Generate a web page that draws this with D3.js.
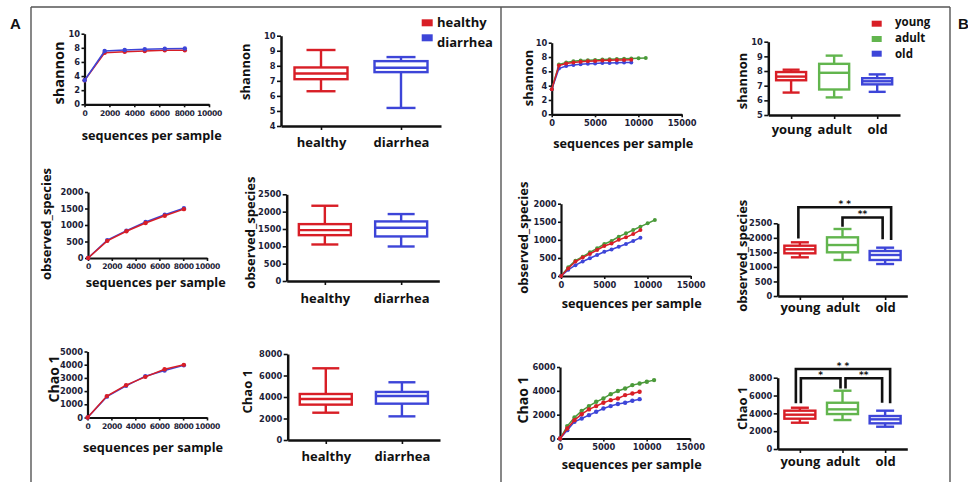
<!DOCTYPE html>
<html><head><meta charset="utf-8">
<script src="https://cdn.jsdelivr.net/npm/d3@7"></script>
<style>
body{margin:0;background:#fff}
svg{display:block}
</style></head><body>
<svg id="c" width="968" height="482"></svg>
<script>
// ---------------- DATA ----------------
const groupsA = ["healthy", "diarrhea"];
const groupsB = ["young", "adult", "old"];
const ticksSeqA = [0, 2000, 4000, 6000, 8000, 10000];
const ticksSeqB = [0, 5000, 10000, 15000];

// Panel A rarefaction curves
const seqA = [10, 1620, 3230, 4840, 6450, 8060];
const shannonCurveHealthy  = [3.4, 7.3, 7.45, 7.55, 7.65, 7.65];
const shannonCurveDiarrhea = [3.4, 7.55, 7.7, 7.8, 7.88, 7.9];
const observedCurveHealthy  = [0, 520, 810, 1060, 1280, 1480];
const observedCurveDiarrhea = [0, 540, 830, 1090, 1310, 1510];
const chaoCurveHealthy  = [0, 1620, 2450, 3080, 3650, 3990];
const chaoCurveDiarrhea = [0, 1580, 2400, 3130, 3560, 3950];

// Panel A box plots: [min, q1, median, q3, max]
const shannonBoxHealthy  = [6.31, 7.11, 7.49, 7.89, 9.05];
const shannonBoxDiarrhea = [5.2, 7.58, 7.87, 8.31, 8.58];
const observedBoxHealthy  = [1053, 1322, 1467, 1640, 2170];
const observedBoxDiarrhea = [995, 1285, 1534, 1718, 1930];
const chaoBoxHealthy  = [2540, 3290, 3810, 4280, 6670];
const chaoBoxDiarrhea = [2200, 3380, 4090, 4470, 5370];

// Panel B rarefaction curves
const seqB = [10, 835, 1670, 2505, 3340, 4175, 5010, 5845, 6680, 7515, 8350, 9185, 10020, 10855];
const shannonCurveYoung = [3.5, 6.8, 7.1, 7.25, 7.35, 7.4, 7.45, 7.5, 7.55, 7.58, 7.6, 7.62];
const shannonCurveAdult = [3.5, 6.95, 7.25, 7.4, 7.5, 7.55, 7.6, 7.65, 7.7, 7.72, 7.75, 7.8, 7.82, 7.85];
const shannonCurveOld   = [3.5, 6.4, 6.75, 6.9, 7.0, 7.05, 7.1, 7.15, 7.18, 7.2, 7.22, 7.25];
const observedCurveYoung = [0, 210, 400, 510, 610, 720, 830, 900, 1000, 1070, 1160, 1270];
const observedCurveAdult = [0, 240, 424, 535, 654, 765, 885, 968, 1088, 1180, 1272, 1364, 1456, 1548];
const observedCurveOld   = [0, 170, 300, 400, 490, 580, 670, 735, 810, 885, 970, 1060];
const chaoCurveYoung = [0, 840, 1540, 2040, 2440, 2720, 3000, 3220, 3360, 3640, 3780, 3920];
const chaoCurveAdult = [0, 1040, 1760, 2320, 2720, 3080, 3360, 3720, 3980, 4200, 4480, 4620, 4760, 4900];
const chaoCurveOld   = [0, 700, 1400, 1680, 1960, 2240, 2520, 2720, 2890, 3000, 3170, 3300];

// Panel B box plots: [min, q1, median, q3, max]
const shannonBoxYoung = [6.53, 7.37, 7.62, 7.93, 8.09];
const shannonBoxAdult = [6.2, 6.74, 7.88, 8.49, 9.05];
const shannonBoxOld   = [6.58, 7.09, 7.3, 7.51, 7.77];
const observedBoxYoung = [1330, 1468, 1606, 1730, 1846];
const observedBoxAdult = [1238, 1502, 1753, 2018, 2304];
const observedBoxOld   = [1100, 1238, 1410, 1547, 1662];
const chaoBoxYoung = [2950, 3400, 3850, 4300, 4630];
const chaoBoxAdult = [3250, 3920, 4450, 5190, 6540];
const chaoBoxOld   = [2500, 2880, 3330, 3700, 4300];

// significance comparisons
const sigObservedPairs = [["young", "old", "* *"], ["adult", "old", "**"]];
const sigChaoPairs = [["young", "old", "* *"], ["young", "adult", "*"], ["adult", "old", "**"]];

// ---------------- STYLE / LAYOUT ----------------
const RED = "#d81e26", BLUE = "#3d45d8", GREEN = "#62b54e", GREEN_D = "#4b9a3a";
const TFONT = "'Open Sans', sans-serif";
const svg = d3.select("#c");

function styleAxis(sel, w, fs) {
  sel.select(".domain").attr("stroke", "#111").attr("stroke-width", w);
  sel.selectAll(".tick line").attr("stroke", "#111").attr("stroke-width", 1.6);
  sel.selectAll(".tick text").attr("font-family", "'DejaVu Sans', sans-serif")
    .attr("font-weight", "bold").attr("font-size", (fs || 8.3) + "px").attr("fill", "#1d1d38");
}
function title(txt, x, y, rot, size) {
  const t = svg.append("text").text(txt)
    .attr("font-family", TFONT).attr("font-weight", 700).attr("font-size", (size || 13) + "px")
    .attr("fill", "#111").attr("text-anchor", "middle").attr("dominant-baseline", "central");
  if (rot) t.attr("transform", `translate(${x},${y}) rotate(-90)`);
  else t.attr("x", x).attr("y", y);
}

function lineChart(o) {
  const x = d3.scaleLinear().domain([0, o.xMax]).range(o.xr);
  const y = d3.scaleLinear().domain([0, o.yMax]).range(o.yr);
  const ga = svg.append("g").attr("transform", `translate(${o.xr[0]},0)`)
    .call(d3.axisLeft(y).tickValues(o.yTicks).tickFormat(d3.format("d")).tickSize(3).tickSizeOuter(0).tickPadding(1.5));
  styleAxis(ga, 2.2);
  const gb = svg.append("g").attr("transform", `translate(0,${o.yr[0]})`)
    .call(d3.axisBottom(x).tickValues(o.xTicks).tickFormat(d3.format("d")).tickSize(3).tickSizeOuter(0).tickPadding(3));
  styleAxis(gb, 2.2, o.xfs);
  if (o.xls) gb.selectAll(".tick text").attr("letter-spacing", o.xls);
  const line = d3.line().x((d, i) => x(o.seq[i])).y(d => y(d));
  o.series.forEach(([vals, col]) => {
    svg.append("path").datum(vals).attr("d", line).attr("fill", "none")
      .attr("stroke", col).attr("stroke-width", 1.5);
    svg.append("g").selectAll("circle").data(vals).join("circle")
      .attr("cx", (d, i) => x(o.seq[i])).attr("cy", d => y(d)).attr("r", o.r || 2.2).attr("fill", col);
  });
  title(o.yTitle, o.yt[0], o.yt[1], true, o.yts);
  title("sequences per sample", o.xt[0], o.xt[1], false, 12.7);
}

function boxChart(o) {
  const x = d3.scalePoint().domain(o.groups).range(o.xr).padding(o.pad);
  const y = d3.scaleLinear().domain(o.yDom).range(o.yr);
  const ga = svg.append("g").attr("transform", `translate(${o.xr[0]},0)`)
    .call(d3.axisLeft(y).tickValues(o.yTicks).tickFormat(d3.format("d")).tickSize(4).tickSizeOuter(0).tickPadding(1.5));
  styleAxis(ga, 2.5);
  const gb = svg.append("g").attr("transform", `translate(0,${o.yr[0]})`)
    .call(d3.axisBottom(x).tickSize(4).tickSizeOuter(0).tickPadding(o.lp));
  styleAxis(gb, 2.5);
  gb.selectAll(".tick text").attr("font-family", TFONT).attr("font-size", "13px")
    .attr("font-weight", 700).attr("fill", "#111");
  o.groups.forEach((g, i) => {
    const s = o.stats[i], c = o.colors[i], cx = x(g);
    const gg = svg.append("g").attr("stroke", c).attr("stroke-width", 2.4).attr("fill", "none");
    gg.append("line").attr("x1", cx).attr("x2", cx).attr("y1", y(s[4])).attr("y2", y(s[3]));
    gg.append("line").attr("x1", cx).attr("x2", cx).attr("y1", y(s[1])).attr("y2", y(s[0]));
    [s[0], s[4]].forEach(v => gg.append("line").attr("x1", cx - o.cw / 2).attr("x2", cx + o.cw / 2)
      .attr("y1", y(v)).attr("y2", y(v)));
    gg.append("rect").attr("x", cx - o.bw / 2).attr("width", o.bw)
      .attr("y", y(s[3])).attr("height", y(s[1]) - y(s[3])).attr("fill", "#fff");
    gg.append("line").attr("x1", cx - o.bw / 2).attr("x2", cx + o.bw / 2)
      .attr("y1", y(s[2])).attr("y2", y(s[2]));
  });
  title(o.yTitle, o.yt[0], o.yt[1], true);
  return { x, y };
}

function brackets(sc, pairs, lay) {
  pairs.forEach((p, i) => {
    const L = lay[i];
    const xa = sc.x(p[0]) + L[4], xb = sc.x(p[1]) + L[5];
    const yt = sc.y(L[0]);
    svg.append("path")
      .attr("d", `M${xa},${sc.y(L[1])}V${yt}H${xb}V${sc.y(L[2])}`)
      .attr("fill", "none").attr("stroke", "#111").attr("stroke-width", 2.6);
    svg.append("text").text(p[2]).attr("x", (xa + xb) / 2 + L[3]).attr("y", yt - 0.3)
      .attr("text-anchor", "middle").attr("font-family", "'DejaVu Sans', sans-serif")
      .attr("font-weight", "bold").attr("font-size", "9px").attr("fill", "#111");
  });
}

// ---------------- FRAME ----------------
const fr = svg.append("g").attr("stroke", "#555").attr("stroke-width", 1.4);
fr.append("line").attr("x1", 31).attr("x2", 950).attr("y1", 7).attr("y2", 7);
fr.append("line").attr("x1", 31).attr("x2", 31).attr("y1", 7).attr("y2", 482);
fr.append("line").attr("x1", 501).attr("x2", 501).attr("y1", 7).attr("y2", 482);
fr.append("line").attr("x1", 950).attr("x2", 950).attr("y1", 7).attr("y2", 482);
svg.append("text").text("A").attr("x", 10).attr("y", 29).attr("font-family", "'Liberation Sans', sans-serif")
  .attr("font-weight", "bold").attr("font-size", "15px").attr("fill", "#111");
svg.append("text").text("B").attr("x", 958).attr("y", 29).attr("font-family", "'Liberation Sans', sans-serif")
  .attr("font-weight", "bold").attr("font-size", "15px").attr("fill", "#111");

// ---------------- PANEL A ----------------
lineChart({ xr: [84.5, 209], yr: [104.3, 33.7], xMax: 10000, yMax: 10, yTicks: [0, 2, 4, 6, 8, 10],
  xTicks: ticksSeqA, seq: seqA, xfs: 7.6, xls: -0.3,
  series: [[shannonCurveHealthy, RED], [shannonCurveDiarrhea, BLUE]],
  yTitle: "shannon", yt: [58, 73], yts: 14.5, xt: [151.7, 135] });
lineChart({ xr: [88, 207], yr: [258, 192], xMax: 10000, yMax: 2000, yTicks: [0, 500, 1000, 1500, 2000],
  xTicks: ticksSeqA, seq: seqA, xfs: 7.6, xls: -0.3,
  series: [[observedCurveDiarrhea, BLUE], [observedCurveHealthy, RED]],
  yTitle: "observed_species", yt: [46, 224], xt: [155.7, 281.7] });
lineChart({ xr: [87.5, 207], yr: [417.5, 351.5], xMax: 10000, yMax: 5000, yTicks: [0, 1000, 2000, 3000, 4000, 5000],
  xTicks: ticksSeqA, seq: seqA, xfs: 7.6, xls: -0.3,
  series: [[chaoCurveDiarrhea, BLUE], [chaoCurveHealthy, RED]],
  yTitle: "Chao 1", yt: [53, 379], yts: 14, xt: [153, 446.7] });

boxChart({ groups: groupsA, xr: [281, 441], yr: [126, 35.7], yDom: [4, 10], yTicks: [4, 5, 6, 7, 8, 9, 10],
  pad: 0.5, bw: 53, cw: 29, lp: 7.3, stats: [shannonBoxHealthy, shannonBoxDiarrhea], colors: [RED, BLUE],
  yTitle: "shannon", yt: [245, 71.7] });
boxChart({ groups: groupsA, xr: [286.7, 439.3], yr: [281, 194.3], yDom: [0, 2500], yTicks: [0, 500, 1000, 1500, 2000, 2500],
  pad: 0.5, bw: 52, cw: 27, lp: 9, stats: [observedBoxHealthy, observedBoxDiarrhea], colors: [RED, BLUE],
  yTitle: "observed_species", yt: [250, 232.6] });
boxChart({ groups: groupsA, xr: [287.7, 440], yr: [440, 354], yDom: [0, 8000], yTicks: [0, 2000, 4000, 6000, 8000],
  pad: 0.5, bw: 52, cw: 27, lp: 7.3, stats: [chaoBoxHealthy, chaoBoxDiarrhea], colors: [RED, BLUE],
  yTitle: "Chao 1", yt: [246.7, 391.7] });

// legend A
[["healthy", RED, 19.3, 26.5], ["diarrhea", BLUE, 34.3, 46.5]].forEach(([t, c, ry, ty]) => {
  svg.append("rect").attr("x", 421.7).attr("y", ry).attr("width", 11).attr("height", 7).attr("fill", c);
  svg.append("text").text(t).attr("x", 437).attr("y", ty).attr("font-family", TFONT)
    .attr("font-weight", 700).attr("font-size", "13px").attr("fill", "#111");
});

// ---------------- PANEL B ----------------
lineChart({ xr: [551.7, 681.7], yr: [114.3, 42.7], xMax: 15000, yMax: 10, yTicks: [0, 2, 4, 6, 8, 10],
  xTicks: ticksSeqB, seq: seqB, r: 2,
  series: [[shannonCurveAdult, GREEN_D], [shannonCurveOld, BLUE], [shannonCurveYoung, RED]],
  yTitle: "shannon", yt: [528.3, 78], xt: [623.3, 142.7] });
lineChart({ xr: [561, 690.7], yr: [276, 203.7], xMax: 15000, yMax: 2000, yTicks: [0, 500, 1000, 1500, 2000],
  xTicks: ticksSeqB, seq: seqB, r: 2,
  series: [[observedCurveAdult, GREEN_D], [observedCurveOld, BLUE], [observedCurveYoung, RED]],
  yTitle: "observed_species", yt: [522.7, 237.7], xt: [631.7, 303.3] });
lineChart({ xr: [560, 690], yr: [438.5, 367], xMax: 15000, yMax: 6000, yTicks: [0, 2000, 4000, 6000],
  xTicks: ticksSeqB, seq: seqB, r: 2.2,
  series: [[chaoCurveAdult, GREEN_D], [chaoCurveOld, BLUE], [chaoCurveYoung, RED]],
  yTitle: "Chao 1", yt: [522.7, 400], yts: 14, xt: [631.7, 464] });

boxChart({ groups: groupsB, xr: [768.3, 900], yr: [115, 41.7], yDom: [5, 10], yTicks: [5, 6, 7, 8, 9, 10],
  pad: 0.53, bw: 30, cw: 17, lp: 5.7, stats: [shannonBoxYoung, shannonBoxAdult, shannonBoxOld],
  colors: [RED, GREEN, BLUE], yTitle: "shannon", yt: [741.7, 81] });
const bObs = boxChart({ groups: groupsB, xr: [777.7, 907.3], yr: [296, 223.3], yDom: [0, 2500], yTicks: [0, 500, 1000, 1500, 2000, 2500],
  pad: 0.52, bw: 31, cw: 18, lp: 3, stats: [observedBoxYoung, observedBoxAdult, observedBoxOld],
  colors: [RED, GREEN, BLUE], yTitle: "observed_species", yt: [741.7, 255.8] });
const bChao = boxChart({ groups: groupsB, xr: [777.7, 907.3], yr: [449, 377.7], yDom: [0, 8000], yTicks: [0, 2000, 4000, 6000, 8000],
  pad: 0.52, bw: 31, cw: 18, lp: 3.3, stats: [chaoBoxYoung, chaoBoxAdult, chaoBoxOld],
  colors: [RED, GREEN, BLUE], yTitle: "Chao 1", yt: [741.7, 408.3] });

// bracket layout: [top, legA bottom, legB bottom, text dx, xA offset, xB offset] (in data units / px)
brackets(bObs, sigObservedPairs, [[3050, 1980, 1930, 0, -1.5, 6], [2700, 2380, 1950, 0, 0, -2.5]]);
brackets(bChao, sigChaoPairs, [[8970, 5120, 5120, 0, -4, 5], [7930, 5120, 6800, 0, 1, -2], [7930, 6800, 5190, 0, 3, -3]]);

// legend B
[["young", RED, 20.7, 25.5], ["adult", GREEN, 36, 41.5], ["old", BLUE, 50.7, 57.5]].forEach(([t, c, ry, ty]) => {
  svg.append("rect").attr("x", 871.7).attr("y", ry).attr("width", 10).attr("height", 6).attr("fill", c);
  svg.append("text").text(t).attr("x", 895).attr("y", ty).attr("font-family", TFONT)
    .attr("font-weight", 700).attr("font-size", "11.5px").attr("fill", "#111");
});
</script>
</body></html>
